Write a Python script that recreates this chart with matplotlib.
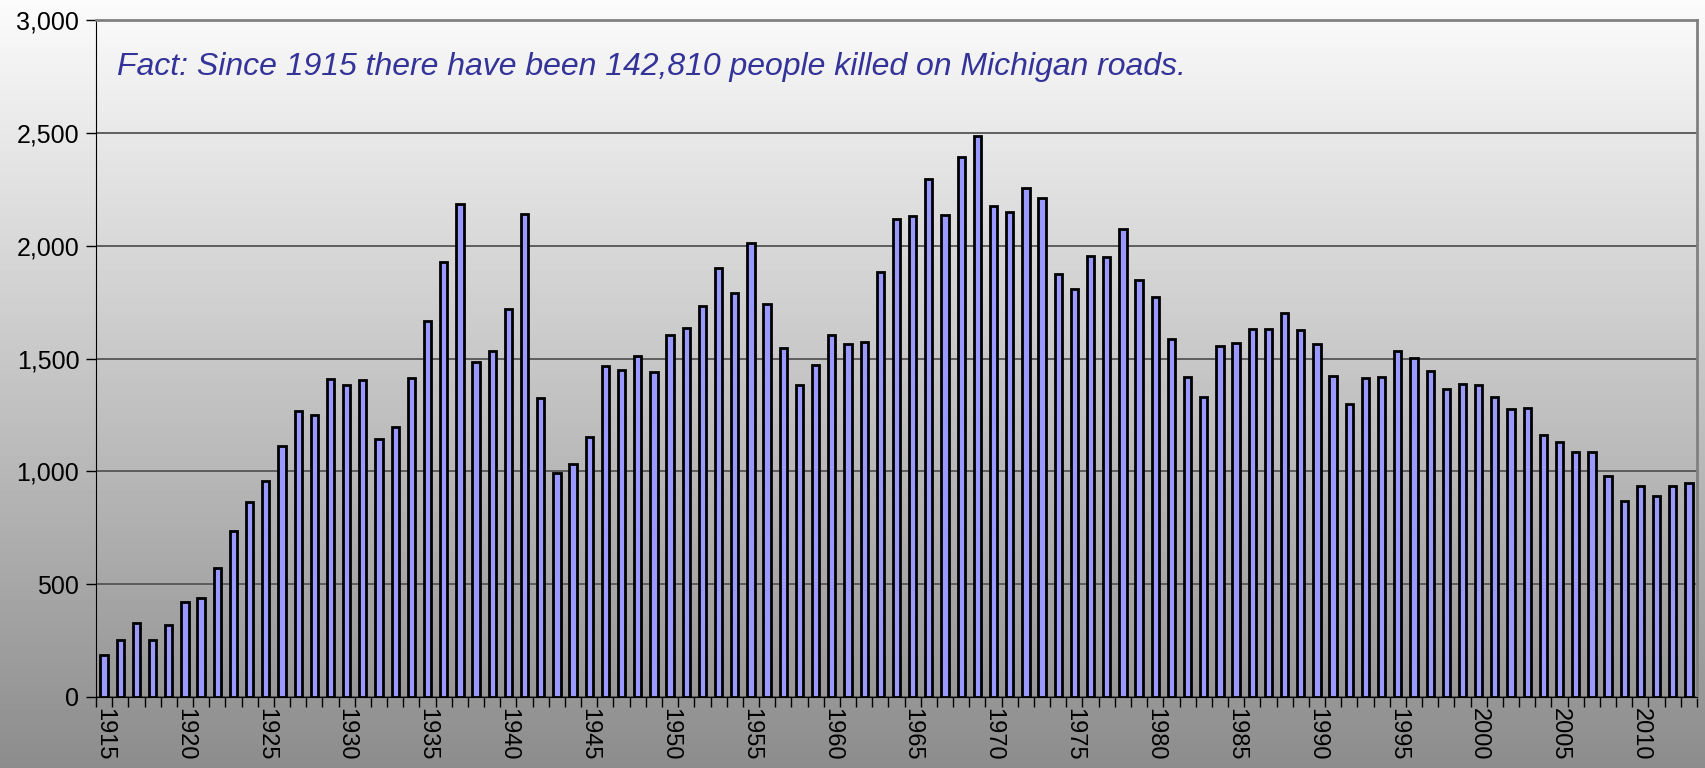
import matplotlib
matplotlib.use("Agg")
import matplotlib.pyplot as plt
import numpy as np

# Michigan traffic deaths per year
years = list(range(1915, 2014))
deaths = [
    188, 254, 326, 254, 318, 419, 440, 572, 737, 863,          # 1915-1924
    956, 1111, 1266, 1250, 1410, 1384, 1405, 1143, 1196, 1414,  # 1925-1934
    1668, 1928, 2186, 1484, 1532, 1720, 2142, 1325, 991, 1032,  # 1935-1944
    1151, 1468, 1447, 1510, 1441, 1602, 1637, 1734, 1903, 1792, # 1945-1954
    2013, 1743, 1546, 1382, 1470, 1602, 1566, 1574, 1885, 2119, # 1955-1964
    2133, 2295, 2136, 2392, 2485, 2175, 2150, 2255, 2211, 1873, # 1965-1974
    1810, 1954, 1948, 2074, 1848, 1774, 1587, 1417, 1330, 1554, # 1975-1984
    1568, 1631, 1631, 1703, 1628, 1563, 1423, 1300, 1414, 1417, # 1985-1994
    1535, 1504, 1446, 1366, 1385, 1381, 1328, 1278, 1282, 1159, # 1995-2004
    1128, 1084, 1084, 978, 870, 936, 889, 936, 950,             # 2005-2013
]
y_ticks = [0, 500, 1000, 1500, 2000, 2500, 3000]
note = "Fact: Since 1915 there have been 142,810 people killed on Michigan roads."

plt.rcParams['font.family'] = ['Liberation Sans', 'DejaVu Sans']

fig = plt.figure(figsize=(17.05, 7.68), dpi=100)

# grey gradient behind everything
bg = fig.add_axes([0, 0, 1, 1])
grad = np.linspace(0.985, 0.55, 256).reshape(-1, 1)
bg.imshow(grad, aspect='auto', cmap='gray', vmin=0, vmax=1, extent=[0, 1, 0, 1])
bg.axis('off')

ax = fig.add_axes([96/1705, 71/768, 1601/1705, 677/768])
ax.patch.set_alpha(0)

x = np.arange(len(years))
ax.bar(x, deaths, width=0.45, color='#9999FF', edgecolor='black', linewidth=2, zorder=3)

ax.set_xlim(-0.5, len(years) - 0.5)
ax.set_ylim(0, 3000)

ax.set_yticks(y_ticks)
ax.set_yticklabels([f"{v:,}" for v in y_ticks], fontsize=18)
ax.yaxis.grid(True, color='#555555', linewidth=1.3, zorder=1)
ax.tick_params(axis='y', length=7, width=1, pad=5)

# minor ticks between every category, labels every 5 years
ax.set_xticks(np.arange(-0.5, len(years), 1), minor=True)
ax.tick_params(axis='x', which='minor', length=7, width=1)
lab_pos = [i for i, yr in enumerate(years) if yr % 5 == 0]
ax.set_xticks(lab_pos)
ax.set_xticklabels([str(years[i]) for i in lab_pos], rotation=-90, fontsize=17)
ax.tick_params(axis='x', which='major', length=0, pad=8)

for s in ['top', 'right']:
    ax.spines[s].set_color('#808080')
    ax.spines[s].set_linewidth(2)
ax.spines['left'].set_color('black')
ax.spines['bottom'].set_color('black')

ax.text(0.013, 0.93, note, transform=ax.transAxes, fontsize=23, style='italic',
        color='#333399', va='center', ha='left')

fig.savefig("out.png", dpi=100)
